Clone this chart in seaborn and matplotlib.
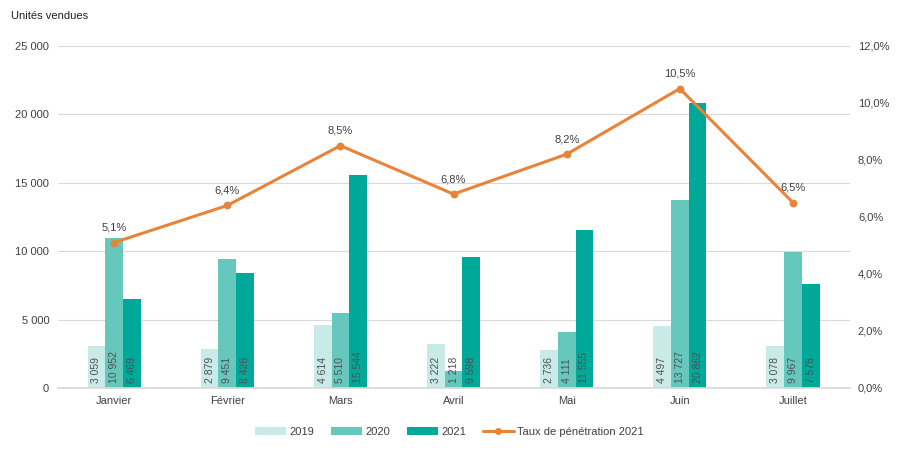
import numpy as np
import pandas as pd
import seaborn as sns
import matplotlib.pyplot as plt
from matplotlib.ticker import FuncFormatter

months = ['Janvier', 'Février', 'Mars', 'Avril', 'Mai', 'Juin', 'Juillet']
units_2019 = [3059, 2879, 4614, 3222, 2736, 4497, 3078]
units_2020 = [10952, 9451, 5510, 1218, 4111, 13727, 9967]
units_2021 = [6469, 8426, 15544, 9598, 11555, 20862, 7576]
taux_2021 = [5.1, 6.4, 8.5, 6.8, 8.2, 10.5, 6.5]

years = ['2019', '2020', '2021']
colors = ['#c9ebe7', '#66c7bd', '#00a89a']
line_color = '#e8833a'
text_color = '#404040'

df = pd.DataFrame({
    'Mois': months * 3,
    'Année': [y for y in years for _ in months],
    'Unités': units_2019 + units_2020 + units_2021,
})
df_taux = pd.DataFrame({'Mois': months, 'Taux': taux_2021})


def fr_thousands(v):
    return f'{int(round(v)):,}'.replace(',', ' ')


sns.set_theme(style='white')
plt.rcParams['font.family'] = ['Liberation Sans', 'DejaVu Sans']

fig = plt.figure(figsize=(8.99, 4.5), dpi=100)
ax = fig.add_axes([0.064, 0.138, 0.881, 0.760])

sns.barplot(data=df, x='Mois', y='Unités', hue='Année', order=months, hue_order=years,
            palette=colors, width=0.47, saturation=1, linewidth=0, ax=ax, legend=True)

ax.set_ylim(0, 25000)
ax.set_yticks(np.arange(0, 25001, 5000))
ax.yaxis.set_major_formatter(FuncFormatter(lambda v, p: fr_thousands(v)))
ax.grid(axis='y', color='#d9d9d9', linewidth=0.8)
ax.set_axisbelow(True)
for s in ['top', 'right', 'left']:
    ax.spines[s].set_visible(False)
ax.spines['bottom'].set_color('#d9d9d9')
ax.tick_params(axis='both', length=0, labelsize=8, colors=text_color, pad=6)
ax.set_xlabel('')
ax.set_ylabel('')

# value labels inside the bars, near the base
for cont in ax.containers:
    for bar in cont:
        h = bar.get_height()
        ax.text(bar.get_x() + bar.get_width() / 2, 380, fr_thousands(h),
                rotation=90, ha='center', va='bottom', fontsize=7.5, color='#505050')

# penetration rate line on secondary axis
ax2 = ax.twinx()
sns.pointplot(data=df_taux, x='Mois', y='Taux', order=months, color=line_color,
              markers='o', markersize=4, linewidth=2.2, ax=ax2)
ax2.set_ylim(0, 12)
ax2.set_yticks(np.arange(0, 12.1, 2))
ax2.yaxis.set_major_formatter(FuncFormatter(lambda v, p: f'{v:.1f}%'.replace('.', ',')))
for s in ax2.spines.values():
    s.set_visible(False)
ax2.tick_params(axis='y', length=0, labelsize=8, colors=text_color, pad=6)
ax2.set_ylabel('')
ax2.set_xlabel('')
for i, t in enumerate(taux_2021):
    ax2.annotate(f'{t:.1f}%'.replace('.', ','), (i, t), xytext=(0, 7), textcoords='offset points',
                 ha='center', va='bottom', fontsize=8, color=text_color)

fig.text(0.012, 0.965, 'Unités vendues', fontsize=8, color='#202020', va='center')

# legend
handles, labels = ax.get_legend_handles_labels()
ax.get_legend().remove()
line_handle = plt.Line2D([], [], color=line_color, marker='o', markersize=4, linewidth=2.2)
fig.legend(handles + [line_handle], labels + ['Taux de pénétration 2021'],
           loc='center', bbox_to_anchor=(0.5, 0.04), ncol=4, frameon=False,
           fontsize=8, handlelength=2.8, handleheight=0.7, columnspacing=1.5,
           handletextpad=0.3, labelcolor=text_color)

fig.savefig('out.png', dpi=100)
